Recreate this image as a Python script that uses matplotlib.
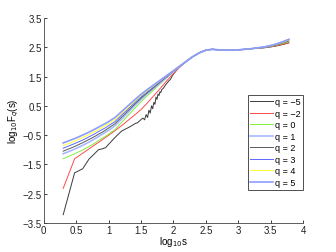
import numpy as np
import matplotlib
matplotlib.use("Agg")
import matplotlib.pyplot as plt

plt.rcParams["font.family"] = ["Liberation Sans", "DejaVu Sans"]

# shared log10(s) grid for the smooth curves
LOG_S = [0.301, 0.477, 0.602, 0.699, 0.778, 0.845, 0.903, 0.954, 1.0,
         1.1, 1.2, 1.3, 1.4, 1.5, 1.6, 1.7, 1.8, 1.9, 2.0, 2.1, 2.2,
         2.3, 2.4, 2.5, 2.6, 2.7, 2.8, 2.9, 3.0, 3.1, 3.2, 3.3, 3.4,
         3.5, 3.6, 3.7, 3.78]

# plateau part (2.2 .. 3.2) common to every q
PLATEAU = [2.02, 2.18, 2.31, 2.40, 2.43, 2.41, 2.40, 2.40, 2.41, 2.43, 2.45]

F_Q5 = [-0.77, -0.62, -0.50, -0.40, -0.31, -0.23, -0.16, -0.10, -0.04,
        0.10, 0.30, 0.50, 0.70, 0.89, 1.06, 1.22, 1.38, 1.54, 1.70, 1.86] \
    + PLATEAU + [2.48, 2.51, 2.56, 2.62, 2.70, 2.77]
F_Q4 = [-0.86, -0.71, -0.58, -0.48, -0.39, -0.31, -0.24, -0.17, -0.11,
        0.03, 0.24, 0.44, 0.65, 0.85, 1.02, 1.19, 1.36, 1.53, 1.69, 1.86] \
    + PLATEAU + [2.48, 2.51, 2.55, 2.61, 2.68, 2.75]
F_Q3 = [-0.95, -0.79, -0.67, -0.56, -0.47, -0.38, -0.31, -0.25, -0.18,
        -0.04, 0.18, 0.39, 0.60, 0.81, 0.99, 1.16, 1.34, 1.51, 1.69, 1.86] \
    + PLATEAU + [2.48, 2.51, 2.55, 2.61, 2.68, 2.76]
F_Q2 = [-1.05, -0.89, -0.76, -0.65, -0.56, -0.47, -0.40, -0.33, -0.26,
        -0.11, 0.11, 0.33, 0.55, 0.76, 0.95, 1.13, 1.32, 1.50, 1.68, 1.85] \
    + PLATEAU + [2.48, 2.50, 2.54, 2.59, 2.66, 2.72]
F_Q1 = [-1.14, -0.98, -0.85, -0.74, -0.64, -0.55, -0.47, -0.40, -0.34,
        -0.18, 0.04, 0.27, 0.50, 0.72, 0.92, 1.11, 1.29, 1.48, 1.67, 1.85] \
    + PLATEAU + [2.48, 2.51, 2.55, 2.61, 2.69, 2.76]
F_Q0 = [-1.31, -1.14, -1.01, -0.89, -0.79, -0.69, -0.61, -0.54, -0.47,
        -0.31, -0.07, 0.17, 0.40, 0.64, 0.85, 1.05, 1.26, 1.46, 1.66, 1.84] \
    + PLATEAU + [2.47, 2.50, 2.53, 2.58, 2.64, 2.70]
F_QM2 = [-2.32, -1.31, -1.12, -0.97, -0.85, -0.75, -0.66, -0.58, -0.51,
         -0.35, -0.18, 0.00, 0.18, 0.37, 0.60, 0.85, 1.10, 1.36, 1.60, 1.82] \
    + PLATEAU + [2.47, 2.49, 2.52, 2.56, 2.61, 2.66]

# q = -5 is jagged, it has its own denser grid
LOG_S_QM5 = [0.301, 0.477, 0.602, 0.699, 0.778, 0.845, 0.903, 0.954, 1.0,
             1.079, 1.146, 1.204, 1.255, 1.301, 1.342, 1.380, 1.415, 1.447,
             1.477, 1.505, 1.531, 1.556, 1.580, 1.602, 1.623, 1.643, 1.663,
             1.681, 1.699, 1.716, 1.732, 1.748, 1.763, 1.778, 1.792, 1.806,
             1.820, 1.845, 1.875, 1.903, 1.929, 1.954, 1.978, 2.0, 2.05, 2.1,
             2.2, 2.3, 2.4, 2.5, 2.6, 2.7, 2.8, 2.9, 3.0, 3.1, 3.2, 3.3, 3.4,
             3.5, 3.6, 3.7, 3.78]
F_QM5 = [-3.22, -1.79, -1.65, -1.32, -1.15, -1.00, -0.97, -0.93, -0.82,
         -0.63, -0.48, -0.36, -0.30, -0.25, -0.20, -0.15, -0.10, -0.08,
         -0.02, 0.04, 0.08, 0.02, 0.20, 0.10, 0.35, 0.25, 0.50,
         0.40, 0.62, 0.55, 0.80, 0.72, 0.90, 0.85, 0.98, 0.95,
         1.05, 1.10, 1.20, 1.28, 1.35, 1.40, 1.50, 1.58, 1.72, 1.84] \
    + PLATEAU + [2.46, 2.48, 2.51, 2.55, 2.60, 2.65]

LABELS = ["q = \u22125", "q = \u22122", "q = 0", "q = 1",
          "q = 2", "q = 3", "q = 4", "q = 5"]
COLORS = ["#3a3a3a", "#ff4a4a", "#80f040", "#a8b8ff",
          "#5a5a5a", "#5a6aff", "#ffff30", "#8c9cff"]
WIDTHS = [0.7, 0.7, 0.7, 1.2, 0.7, 0.7, 0.7, 1.2]


def main():
    fig = plt.figure(figsize=(3.36, 2.53), dpi=100)
    ax = fig.add_axes([0.13, 0.115, 0.772, 0.81])

    series = [(LOG_S_QM5, F_QM5), (LOG_S, F_QM2), (LOG_S, F_Q0),
              (LOG_S, F_Q1), (LOG_S, F_Q2), (LOG_S, F_Q3),
              (LOG_S, F_Q4), (LOG_S, F_Q5)]
    for (x, y), lab, c, lw in zip(series, LABELS, COLORS, WIDTHS):
        ax.plot(x, y, color=c, lw=lw, label=lab)

    fs = 7
    ax.set_xlim(0, 4)
    ax.set_ylim(-3.5, 3.5)
    ax.set_xticks(np.arange(0, 4.01, 0.5))
    ax.set_xticklabels(["0", "0.5", "1", "1.5", "2", "2.5", "3", "3.5", "4"])
    ax.set_yticks(np.arange(-3.5, 3.51, 1.0))
    ax.set_yticklabels(["\u22123.5", "\u22122.5", "\u22121.5", "\u22120.5",
                        "0.5", "1.5", "2.5", "3.5"])
    ax.tick_params(direction="in", length=2.5, width=0.6, labelsize=fs,
                   pad=1.5, colors="#222222")
    for side in ("top", "right"):
        ax.spines[side].set_visible(False)
    for side in ("left", "bottom"):
        ax.spines[side].set_linewidth(0.6)
        ax.spines[side].set_color("#444444")

    ax.set_xlabel(r"log$_{10}$s", fontsize=fs, labelpad=-1)
    ax.set_ylabel(r"log$_{10}$F$_q$(s)", fontsize=fs, labelpad=1)

    leg = ax.legend(loc="lower right", bbox_to_anchor=(1.0, 0.162),
                    fontsize=6.5, frameon=True, fancybox=False,
                    borderaxespad=0, handlelength=2.5, handletextpad=0.2,
                    labelspacing=0.28, borderpad=0.3)
    leg.get_frame().set_edgecolor("#222222")
    leg.get_frame().set_linewidth(0.7)

    fig.savefig("out.png", dpi=100)
    plt.close(fig)


if __name__ == "__main__":
    main()
